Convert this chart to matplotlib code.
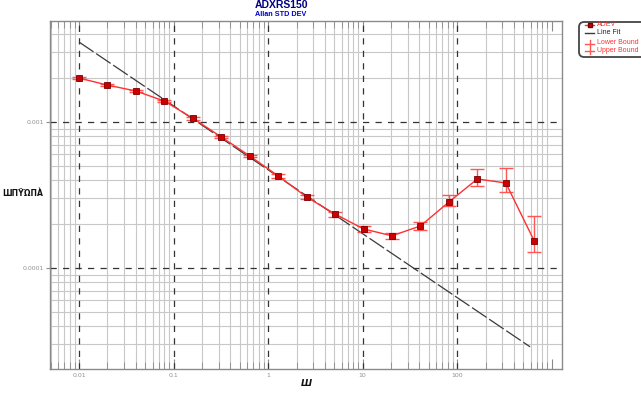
import matplotlib
matplotlib.use("Agg")
import matplotlib.pyplot as plt
from matplotlib.lines import Line2D
from matplotlib.patches import FancyBboxPatch
from matplotlib.ticker import LogLocator, FixedLocator, NullFormatter, FixedFormatter

# ---- data ----
tau = [0.01, 0.02, 0.04, 0.08, 0.16, 0.32, 0.64, 1.28, 2.56, 5.12, 10.24,
       20.48, 40.96, 81.92, 163.84, 327.68, 655.36]
adev = [0.00200, 0.00179, 0.00163, 0.00139, 0.00106, 0.000790, 0.000585,
        0.000427, 0.000306, 0.000234, 0.000185, 0.000166, 0.000194,
        0.000283, 0.000407, 0.000382, 0.000153]
upper = [0.00203, 0.00182, 0.00166, 0.00142, 0.00108, 0.000805, 0.000598,
         0.000438, 0.000316, 0.000243, 0.000194, 0.000174, 0.000207,
         0.000316, 0.000476, 0.000484, 0.000227]
lower = [0.00197, 0.00176, 0.00160, 0.00136, 0.00104, 0.000775, 0.000572,
         0.000416, 0.000296, 0.000225, 0.000177, 0.000158, 0.000182,
         0.000266, 0.000365, 0.000332, 0.000129]
fit_tau = [0.01, 592.0]
fit_adev = [0.00353, 2.88e-5]

x_major = [0.01, 0.1, 1, 10, 100, 1000]
x_labels = ["0.01", "0.1", "1", "10", "100", ""]
x_grid_major = [0.01, 0.1, 1, 10, 100]
y_major = [0.0001, 0.001]
y_labels = ["0.0001", "0.001"]

title = "ADXRS150"
subtitle = "Allan STD DEV"
ylabel = "ШΠŸΏΠÀ"
xlabel = "Ш"
legend_labels = ["ADEV", "Line Fit", "Lower Bound", "Upper Bound"]

W, H = 641, 397
fig = plt.figure(figsize=(W / 100, H / 100), dpi=100)
L, R, T, B = 50, 562, 21, 369
ax = fig.add_axes([L / W, 1 - B / H, (R - L) / W, (B - T) / H])
ax.set_xscale("log")
ax.set_yscale("log")
ax.set_xlim(10 ** -2.307, 10 ** 3.11)
ax.set_ylim(2.03e-5, 4.92e-3)

gray = "#8a8a8a"
for s in ax.spines.values():
    s.set_color(gray)
    s.set_linewidth(1.0)

ax.xaxis.set_major_locator(FixedLocator(x_major))
ax.xaxis.set_major_formatter(FixedFormatter(x_labels))
ax.xaxis.set_minor_locator(LogLocator(base=10, subs=range(2, 10), numticks=20))
ax.xaxis.set_minor_formatter(NullFormatter())
ax.yaxis.set_major_locator(FixedLocator(y_major))
ax.yaxis.set_major_formatter(FixedFormatter(y_labels))
ax.yaxis.set_minor_locator(LogLocator(base=10, subs=range(2, 10), numticks=20))
ax.yaxis.set_minor_formatter(NullFormatter())

ax.grid(which="minor", color="#c8c8c8", linestyle="-", linewidth=0.8)
for xv in x_grid_major:
    ax.axvline(xv, color="#333333", linestyle=(0, (5, 5)), linewidth=0.9, zorder=1)
for yv in y_major:
    ax.axhline(yv, color="#333333", linestyle=(0, (5, 5)), linewidth=0.9, zorder=1)
ax.set_axisbelow(True)

ax.tick_params(axis="x", which="major", direction="in", length=7, color=gray,
               top=True, labelsize=4.5, labelcolor="#909090", pad=3)
ax.tick_params(axis="x", which="minor", direction="in", length=5, color=gray,
               top=True)
ax.tick_params(axis="y", which="major", direction="out", length=3, color=gray,
               labelsize=4.5, labelcolor="#909090", pad=1)
ax.tick_params(axis="y", which="minor", length=0)

# line fit
ax.plot(fit_tau, fit_adev, color="#3a3a3a", linewidth=0.9,
        linestyle=(0, (14, 2.5)), zorder=3)

# ADEV with error bars
yerr = [[a - l for a, l in zip(adev, lower)], [u - a for a, u in zip(adev, upper)]]
ax.errorbar(tau, adev, yerr=yerr, fmt="none", ecolor="#ff5555", elinewidth=1.0,
            capsize=5, capthick=1.0, zorder=4)
ax.plot(tau, adev, color="#ff3030", linewidth=1.0, marker="s", markersize=3.8,
        markerfacecolor="#cc0000", markeredgecolor="#7a0000", markeredgewidth=0.6,
        zorder=5)

def fx(x):
    return x / W

def fy(y):
    return 1 - y / H

fig.text(fx(281), fy(5), title, ha="center", va="center", fontsize=7.5,
         fontweight="bold", color="#000080", family="Liberation Sans")
fig.text(fx(281), fy(15), subtitle, ha="center", va="center", fontsize=5.2,
         fontweight="bold", color="#0000cc", family="Liberation Sans")
fig.text(fx(2), fy(193), ylabel, ha="left", va="center", fontsize=5.5,
         fontweight="bold", color="#111111", family="DejaVu Sans")
fig.text(fx(306), fy(384), xlabel, ha="center", va="center", fontsize=6.5,
         fontweight="bold", style="italic", color="#111111", family="DejaVu Sans")

# legend (manual)
box = FancyBboxPatch((fx(579), fy(57)), fx(70), 35 / H,
                     boxstyle="round,pad=0,rounding_size=0.008",
                     transform=fig.transFigure, facecolor="white",
                     edgecolor="#444444", linewidth=1.3, mutation_aspect=W / H)
fig.patches.append(box)
red_t = "#ff3030"
rows = [25, 33, 43, 51]
fig.lines.append(Line2D([fx(585), fx(594)], [fy(25), fy(25)], color="#ff3030",
                        linewidth=1.0, transform=fig.transFigure))
fig.lines.append(Line2D([fx(589.5)], [fy(25)], color="#cc0000", marker="s",
                        markersize=3.2, markeredgecolor="#7a0000",
                        transform=fig.transFigure))
fig.lines.append(Line2D([fx(585), fx(594)], [fy(33), fy(33)], color="#3a3a3a",
                        linewidth=1.0, transform=fig.transFigure))
fig.lines.append(Line2D([fx(589.5), fx(589.5)], [fy(40), fy(54)], color="#ff5555",
                        linewidth=1.0, transform=fig.transFigure))
fig.lines.append(Line2D([fx(585), fx(594)], [fy(43.5), fy(43.5)], color="#ff5555",
                        linewidth=1.0, transform=fig.transFigure))
fig.lines.append(Line2D([fx(585), fx(594)], [fy(50.5), fy(50.5)], color="#ff5555",
                        linewidth=1.0, transform=fig.transFigure))
colors = [red_t, "#222222", red_t, red_t]
for lab, yy, c in zip(legend_labels, rows, colors):
    fig.text(fx(597), fy(yy), lab, ha="left", va="center", fontsize=5.0,
             color=c, family="Liberation Sans")

fig.savefig("out.png", dpi=100)
